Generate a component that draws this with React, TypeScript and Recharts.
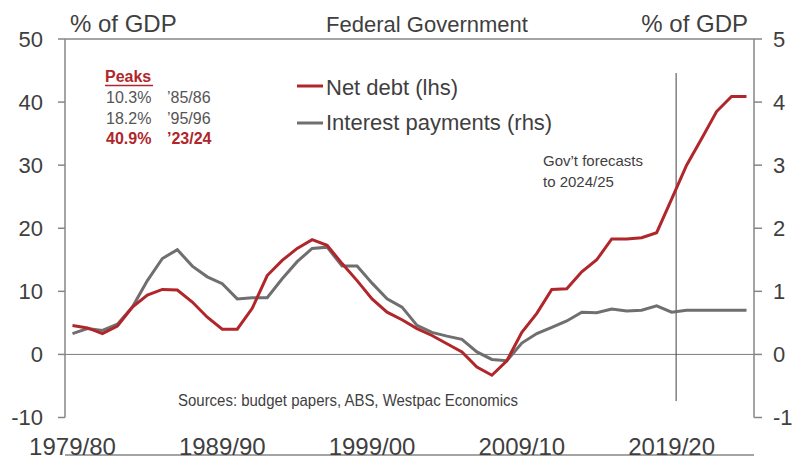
import React from "react";
import { LineChart, Line, XAxis, YAxis, ReferenceLine } from "recharts";

// financial years, one per category
const YEARS = [
  "1979/80", "1980/81", "1981/82", "1982/83", "1983/84", "1984/85", "1985/86", "1986/87",
  "1987/88", "1988/89", "1989/90", "1990/91", "1991/92", "1992/93", "1993/94", "1994/95",
  "1995/96", "1996/97", "1997/98", "1998/99", "1999/00", "2000/01", "2001/02", "2002/03",
  "2003/04", "2004/05", "2005/06", "2006/07", "2007/08", "2008/09", "2009/10", "2010/11",
  "2011/12", "2012/13", "2013/14", "2014/15", "2015/16", "2016/17", "2017/18", "2018/19",
  "2019/20", "2020/21", "2021/22", "2022/23", "2023/24", "2024/25",
];

// net debt, % of GDP (lhs)
const NET_DEBT = [
  4.6, 4.2, 3.3, 4.5, 7.5, 9.4, 10.3, 10.2, 8.3, 5.9,
  4.0, 4.0, 7.3, 12.5, 14.9, 16.8, 18.2, 17.3, 14.4, 11.7,
  8.8, 6.7, 5.5, 4.1, 3.0, 1.7, 0.4, -2.0, -3.3, -1.0,
  3.5, 6.5, 10.3, 10.4, 13.1, 15.0, 18.3, 18.3, 18.5, 19.3,
  24.6, 30.0, 34.2, 38.5, 40.9, 40.9,
];

// interest payments, % of GDP (rhs)
const INTEREST = [
  0.33, 0.41, 0.38, 0.48, 0.75, 1.17, 1.52, 1.66, 1.40, 1.23,
  1.12, 0.88, 0.90, 0.90, 1.20, 1.47, 1.68, 1.70, 1.40, 1.40,
  1.13, 0.88, 0.75, 0.46, 0.35, 0.29, 0.24, 0.04, -0.08, -0.10,
  0.18, 0.33, 0.43, 0.53, 0.67, 0.66, 0.72, 0.69, 0.70, 0.77,
  0.67, 0.70, 0.70, 0.70, 0.70, 0.70,
];

const LEFT_TICKS = [-10, 0, 10, 20, 30, 40, 50];
const RIGHT_TICKS = [-1, 0, 1, 2, 3, 4, 5];
// tick marks sit on category boundaries every five years
const TICK_MARKS = [-0.5, 4.5, 9.5, 14.5, 19.5, 24.5, 29.5, 34.5, 39.5, 44.5];
// labels every ten years, on the category itself
const LABEL_TICKS = [0, 10, 20, 30, 40];

const PEAKS = [
  { value: "10.3%", year: "’85/86", highlight: false },
  { value: "18.2%", year: "’95/96", highlight: false },
  { value: "40.9%", year: "’23/24", highlight: true },
];

// start of the government forecast period (category index)
const FORECAST_START = 40.3;

const RED = "#B0262B";
const GREY = "#6F6F6F";
const AXIS = "#868686";
const TEXT = "#3F3F3F";
const FONT = "'Liberation Sans', Arial, Helvetica, sans-serif";

const rows = YEARS.map((year, i) => ({
  i,
  year,
  debt: NET_DEBT[i],
  interest: INTEREST[i],
}));

export default function App() {
  return (
    <div
      style={{
        position: "absolute",
        left: 0,
        top: 0,
        width: 795,
        height: 463,
        background: "#fff",
        fontFamily: FONT,
      }}
    >
      <LineChart
        width={795}
        height={463}
        data={rows}
        margin={{ top: 39, right: 0, bottom: 0, left: 0 }}
      >
        <XAxis
          xAxisId="marks"
          type="number"
          dataKey="i"
          domain={[-0.5, 45.5]}
          ticks={TICK_MARKS}
          interval={0}
          tick={false}
          tickSize={7}
          height={8}
          axisLine={{ stroke: AXIS, strokeWidth: 1.5 }}
          tickLine={{ stroke: AXIS, strokeWidth: 1.5 }}
        />
        <XAxis
          xAxisId="labels"
          type="number"
          dataKey="i"
          domain={[-0.5, 45.5]}
          ticks={LABEL_TICKS}
          interval={0}
          tickFormatter={(v: number) => YEARS[v] ?? ""}
          axisLine={false}
          tickLine={false}
          tickSize={0}
          tickMargin={20}
          height={37.5}
          tick={{ fill: TEXT, fontSize: 24 }}
        />
        <YAxis
          yAxisId="left"
          domain={[-10, 50]}
          ticks={LEFT_TICKS}
          interval={0}
          width={65}
          tickSize={7}
          tickMargin={15}
          axisLine={{ stroke: AXIS, strokeWidth: 1.5 }}
          tickLine={{ stroke: AXIS, strokeWidth: 1.5 }}
          tick={{ fill: TEXT, fontSize: 22 }}
        />
        <YAxis
          yAxisId="right"
          orientation="right"
          domain={[-1, 5]}
          ticks={RIGHT_TICKS}
          interval={0}
          width={41}
          tickSize={8}
          tickMargin={11}
          axisLine={{ stroke: AXIS, strokeWidth: 1.5 }}
          tickLine={{ stroke: AXIS, strokeWidth: 1.5 }}
          tick={{ fill: TEXT, fontSize: 22 }}
        />
        <ReferenceLine xAxisId="marks" yAxisId="left" y={50} stroke={AXIS} strokeWidth={1.5} />
        <ReferenceLine xAxisId="marks" yAxisId="left" y={0} stroke="#7A7A7A" strokeWidth={1} />
        <ReferenceLine
          xAxisId="marks"
          yAxisId="left"
          segment={[
            { x: FORECAST_START, y: 44.6 },
            { x: FORECAST_START, y: -7.4 },
          ]}
          stroke="#404040"
          strokeWidth={1}
        />
        <Line
          xAxisId="marks"
          yAxisId="right"
          dataKey="interest"
          stroke={GREY}
          strokeWidth={3}
          dot={false}
          type="linear"
          isAnimationActive={false}
        />
        <Line
          xAxisId="marks"
          yAxisId="left"
          dataKey="debt"
          stroke={RED}
          strokeWidth={3}
          dot={false}
          type="linear"
          isAnimationActive={false}
        />
      </LineChart>

      <svg
        width={795}
        height={463}
        style={{ position: "absolute", left: 0, top: 0, pointerEvents: "none" }}
      >
        <text x={70} y={32} fontSize={24} fill={TEXT}>% of GDP</text>
        <text x={427} y={32} fontSize={22} fill={TEXT} textAnchor="middle">Federal Government</text>
        <text x={748} y={32} fontSize={24} fill={TEXT} textAnchor="end">% of GDP</text>

        {/* legend */}
        <line x1={297} y1={86} x2={323} y2={86} stroke={RED} strokeWidth={3} />
        <text x={326} y={95} fontSize={22} fill={TEXT}>Net debt (lhs)</text>
        <line x1={297} y1={123} x2={323} y2={123} stroke={GREY} strokeWidth={3} />
        <text x={326} y={130} fontSize={22} fill={TEXT}>Interest payments (rhs)</text>

        {/* peaks table */}
        <text x={105} y={82} fontSize={16} fontWeight="bold" fill={RED}>Peaks</text>
        <line x1={105} y1={85.5} x2={153} y2={85.5} stroke={RED} strokeWidth={1.5} />
        {PEAKS.map((p, k) => (
          <g
            key={p.year}
            fontSize={16}
            fill={p.highlight ? RED : "#555"}
            fontWeight={p.highlight ? "bold" : "normal"}
          >
            <text x={106} y={103 + k * 20.5}>{p.value}</text>
            <text x={167} y={103 + k * 20.5}>{p.year}</text>
          </g>
        ))}

        <text x={543} y={166} fontSize={15} fill={TEXT}>Gov’t forecasts</text>
        <text x={543} y={187} fontSize={15} fill={TEXT}>to 2024/25</text>

        <text
          x={178}
          y={406}
          fontSize={16}
          fill={TEXT}
          fontFamily="'Liberation Sans Narrow', 'Liberation Sans', Arial, sans-serif"
          textLength={340}
          lengthAdjust="spacingAndGlyphs"
        >
          Sources: budget papers, ABS, Westpac Economics
        </text>
      </svg>
    </div>
  );
}
